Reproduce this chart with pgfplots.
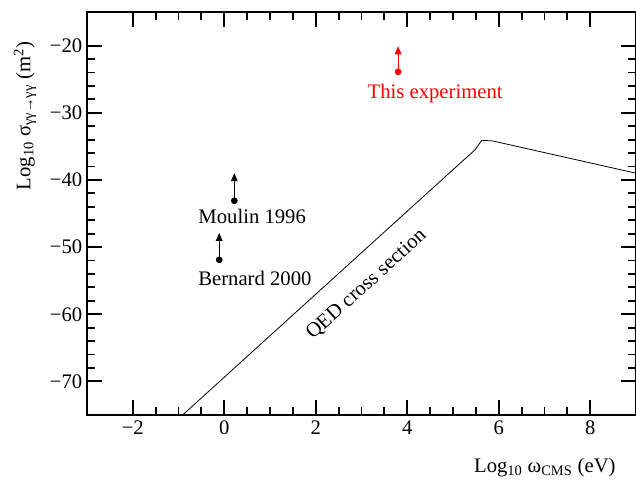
\documentclass[border=0pt]{standalone}
\usepackage{pgfplots}
\pgfplotsset{compat=1.18}
\usepackage{fontspec}
\setmainfont{Liberation Serif}
\usetikzlibrary{arrows.meta,calc}
\definecolor{ExpRed}{HTML}{FF0000}

\begin{document}
\begin{tikzpicture}
    \begin{axis}[
        scale only axis,
        width=411.75pt,
        height=302.25pt,
        xmin=-3, xmax=9,
        ymin=-75, ymax=-15,
        xtick={-2,0,2,4,6,8},
        xticklabels={−2,0,2,4,6,8},
        ytick={-70,-60,-50,-40,-30,-20},
        yticklabels={−70,−60,−50,−40,−30,−20},
        minor x tick num=3,
        minor y tick num=4,
        tick align=inside,
        major tick length=11pt,
        minor tick length=6pt,
        axis line style={line width=1.4pt},
        every tick/.style={black, line width=1.4pt},
        ticklabel style={font=\fontsize{15.5}{17}\selectfont},
        /pgf/number format/assume math mode=true,
        xticklabel style={yshift=-1pt},
        yticklabel style={xshift=0pt},
        xlabel={Log\textsubscript{10} ω\textsubscript{CMS} (eV)},
        ylabel={Log\textsubscript{10} σ\textsubscript{γγ→γγ} (m\textsuperscript{2})},
        label style={font=\fontsize{15.5}{17}\selectfont},
        xlabel style={at={(axis description cs:0.834,-0.13)}, anchor=center},
        ylabel style={at={(axis description cs:-0.113,0.742)}, anchor=center},
        clip=true
    ]

    % QED cross section
    \addplot[black, line width=0.6pt] coordinates {
        (-0.91,-75.0)
        (5.11,-37.8)
        (5.47,-35.6)
        (5.63,-34.1)
        (5.87,-34.2)
        (9.00,-39.0)
    };

    % lower limits (arrows)
    \addplot[black, line width=0.8pt, -{Triangle[length=6pt,width=5pt]}]
        coordinates {(0.22,-43.1) (0.22,-39.0)};
    \addplot[black, line width=0.8pt, -{Triangle[length=6pt,width=5pt]}]
        coordinates {(-0.11,-51.9) (-0.11,-47.9)};
    \addplot[ExpRed, line width=0.8pt, -{Triangle[length=6pt,width=5pt]}]
        coordinates {(3.80,-23.9) (3.80,-20.1)};

    \addplot[only marks, black, mark=*, mark size=2.3pt]
        coordinates {(0.22,-43.1) (-0.11,-51.9)};
    \addplot[only marks, ExpRed, mark=*, mark size=2.3pt]
        coordinates {(3.80,-23.9)};

    \node[font=\fontsize{15.5}{17}\selectfont] at (axis cs:0.61,-45.5) {Moulin 1996};
    \node[font=\fontsize{15.5}{17}\selectfont] at (axis cs:0.67,-54.6) {Bernard 2000};
    \node[font=\fontsize{15.5}{17}\selectfont, text=ExpRed] at (axis cs:4.61,-27.1) {This experiment};
    \node[font=\fontsize{15.5}{17}\selectfont, rotate=42] at (axis cs:3.11,-55.6) {QED cross section};

    \end{axis}
    \pgfresetboundingbox
    \path ($(current axis.south west)+(-65.25pt,-49.5pt)$) rectangle ($(current axis.north east)+(0pt,9pt)$);
\end{tikzpicture}
\end{document}
